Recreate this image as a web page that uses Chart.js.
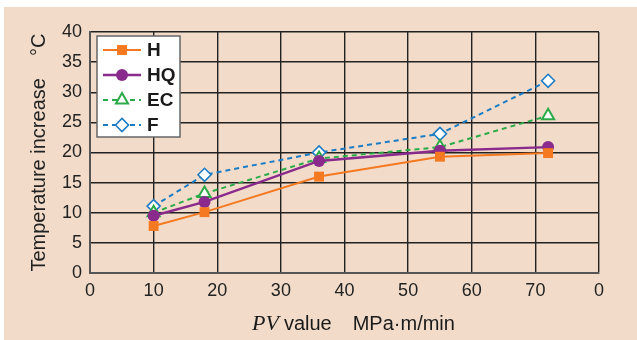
<!DOCTYPE html>
<html lang="en">
<head>
<meta charset="UTF-8">
<title>Temperature increase vs PV value</title>
<script src="https://cdn.jsdelivr.net/npm/chart.js@4"></script>
<style>
  body { margin: 0; background: #ffffff; }
  #wrap { position: absolute; left: 4px; top: 7px; width: 633px; height: 333px; background: #f2dcc9; }
</style>
</head>
<body>
<div id="wrap"><canvas id="chart" width="633" height="333"></canvas></div>
<script>
// PV value (MPa·m/min) per measured point
const pvValues = [10, 18, 36, 55, 72]

// temperature increase (°C) for each grade
const tempH = [7.8, 10.1, 16.0, 19.3, 19.9]
const tempHQ = [9.5, 11.8, 18.6, 20.3, 20.9]
const tempEC = [10.0, 13.2, 19.0, 20.9, 26.1]
const tempF = [11.1, 16.3, 20.0, 23.1, 31.9]

const seriesNames = ["H", "HQ", "EC", "F"]
const xTicks = [0, 10, 20, 30, 40, 50, 60, 70, 80]
const xTickLabels = ["0", "10", "20", "30", "40", "50", "60", "70", "0"]

const toPoints = (ys) => pvValues.map((x, i) => ({ x: x, y: ys[i] }))

const font = "'Liberation Sans', Arial, sans-serif"

const datasets = [
  { label: seriesNames[0], data: toPoints(tempH), borderColor: "#f47920", backgroundColor: "#f47920",
    borderWidth: 2, pointStyle: "rect", pointRadius: 7, pointBorderWidth: 0 },
  { label: seriesNames[1], data: toPoints(tempHQ), borderColor: "#8a2a8c", backgroundColor: "#8a2a8c",
    borderWidth: 2.4, pointStyle: "circle", pointRadius: 6, pointBorderWidth: 0 },
  { label: seriesNames[2], data: toPoints(tempEC), borderColor: "#2bab48", backgroundColor: "#ffffff",
    borderWidth: 2, borderDash: [5, 4], pointStyle: "triangle", pointRadius: 7, pointBorderWidth: 2 },
  { label: seriesNames[3], data: toPoints(tempF), borderColor: "#1b7cc6", backgroundColor: "#ffffff",
    borderWidth: 2, borderDash: [5, 4], pointStyle: "rectRot", pointRadius: 6.5, pointBorderWidth: 1.6 },
]

// legend box drawn inside the plot area, top-left
const boxLegend = {
  id: "boxLegend",
  afterDatasetsDraw(chart) {
    const ctx = chart.ctx
    const x0 = 93, y0 = 29, w = 83, h = 101
    ctx.save()
    ctx.fillStyle = "#ffffff"
    ctx.fillRect(x0, y0, w, h)
    ctx.strokeStyle = "#666666"
    ctx.lineWidth = 1.5
    ctx.strokeRect(x0, y0, w, h)
    const rows = [43, 68, 93, 118]
    chart.data.datasets.forEach((ds, i) => {
      const y = rows[i]
      ctx.beginPath()
      ctx.strokeStyle = ds.borderColor
      ctx.lineWidth = ds.borderWidth
      ctx.setLineDash(ds.borderDash || [])
      ctx.moveTo(99, y)
      ctx.lineTo(137, y)
      ctx.stroke()
      ctx.setLineDash([])
      ctx.fillStyle = ds.backgroundColor
      ctx.strokeStyle = ds.borderColor
      ctx.lineWidth = ds.pointBorderWidth
      Chart.helpers.drawPoint(ctx, {
        pointStyle: ds.pointStyle,
        rotation: 0,
        radius: ds.pointRadius,
        borderWidth: ds.pointBorderWidth,
      }, 118, y)
      ctx.fillStyle = "#1a1a1a"
      ctx.font = "bold 19px " + font
      ctx.textBaseline = "middle"
      ctx.fillText(ds.label, 143, y + 1)
    })
    ctx.restore()
  },
}

// x axis title with italic PV
const xTitle = {
  id: "xTitle",
  afterDraw(chart) {
    const ctx = chart.ctx
    ctx.save()
    ctx.fillStyle = "#1a1a1a"
    ctx.textBaseline = "alphabetic"
    let x = 248
    const y = 323
    ctx.font = "italic 22px 'Liberation Serif', 'DejaVu Serif', serif"
    ctx.fillText("PV", x, y)
    x += ctx.measureText("PV").width + 5
    ctx.font = "20px " + font
    ctx.fillText("value", x, y)
    x += ctx.measureText("value").width + 21
    ctx.fillText("MPa\u00b7m/min", x, y)
    ctx.restore()
  },
}

new Chart(document.getElementById("chart"), {
  type: "scatter",
  data: { datasets: datasets },
  plugins: [boxLegend, xTitle],
  options: {
    responsive: false,
    animation: false,
    showLine: true,
    layout: { padding: { top: 25, right: 38, left: 0, bottom: 0 } },
    plugins: { legend: { display: false }, tooltip: { enabled: false } },
    scales: {
      x: {
        type: "linear",
        min: 0,
        max: 80,
        afterBuildTicks: (scale) => { scale.ticks = xTicks.map((v) => ({ value: v })) },
        afterFit: (scale) => { scale.height = 67 },
        border: { display: true, color: "#555555", width: 2 },
        grid: { color: "#222222", lineWidth: 1.4, drawTicks: false },
        ticks: {
          padding: 7,
          color: "#222222",
          font: { family: font, size: 18 },
          callback: (v) => xTickLabels[xTicks.indexOf(v)],
        },
      },
      y: {
        min: 0,
        max: 40,
        afterFit: (scale) => { scale.width = 86 },
        border: { display: true, color: "#555555", width: 2 },
        grid: { color: "#222222", lineWidth: 1.4, drawTicks: false },
        ticks: { stepSize: 5, padding: 8, color: "#222222", font: { family: font, size: 18 } },
        title: {
          display: true,
          text: "Temperature increase    \u00b0C",
          color: "#222222",
          font: { family: font, size: 20 },
          padding: { top: 23, bottom: 0 },
        },
      },
    },
  },
})
</script>
</body>
</html>
